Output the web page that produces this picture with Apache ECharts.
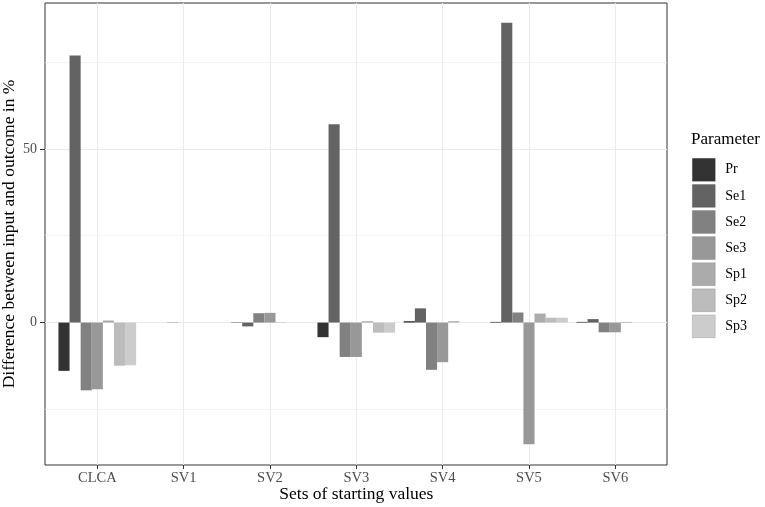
<!DOCTYPE html>
<html>
<head>
<meta charset="utf-8">
<script src="https://cdn.jsdelivr.net/npm/echarts@6/dist/echarts.min.js"></script>
<style>
  html, body { margin: 0; padding: 0; background: #fff; }
  #main { width: 765px; height: 507px; }
</style>
</head>
<body>
<div id="main"></div>
<script>
var chart = echarts.init(document.getElementById('main'));

// categories and values (percent)
var sets = ['CLCA', 'SV1', 'SV2', 'SV3', 'SV4', 'SV5', 'SV6'];
var params = ['Pr', 'Se1', 'Se2', 'Se3', 'Sp1', 'Sp2', 'Sp3'];
var pr  = [-13.9, 0, -0.1, -4.2, 0.4, 0.2, 0.2];
var se1 = [76.9, 0, -1.1, 57.1, 4.1, 86.3, 1.0];
var se2 = [-19.5, -0.1, 2.7, -9.9, -13.6, 2.9, -2.8];
var se3 = [-19.2, 0, 2.8, -9.9, -11.4, -35.0, -2.8];
var sp1 = [0.6, 0, 0.1, 0.4, 0.4, 2.6, 0.2];
var sp2 = [-12.4, 0, 0, -2.9, 0, 1.4, 0];
var sp3 = [-12.3, 0, 0, -2.9, 0, 1.4, 0];
var majorTicks = [0, 50];
var minorTicks = [-25, 25, 75];

var values = [pr, se1, se2, se3, sp1, sp2, sp3];
var greys = ['#333333', '#636363', '#818181', '#989898', '#ABABAB', '#BCBCBC', '#CCCCCC'];
var font = 'Liberation Serif';
var yMin = -41, yMax = 92;

var series = params.map(function (p, i) {
  return {
    name: p,
    type: 'bar',
    xAxisIndex: 1,
    yAxisIndex: 1,
    barGap: '0%',
    barCategoryGap: '10%',
    clip: false,
    itemStyle: { color: greys[i] },
    emphasis: { disabled: true },
    data: values[i]
  };
});

var option = {
  animation: false,
  color: greys,
  title: {
    text: 'Parameter',
    left: 691,
    top: 131,
    padding: 0,
    textStyle: { fontFamily: font, fontSize: 17, fontWeight: 'normal', color: '#000' }
  },
  legend: {
    orient: 'vertical',
    left: 692,
    top: 158,
    padding: 0,
    icon: 'rect',
    itemWidth: 23,
    itemHeight: 23,
    itemGap: 2.5,
    data: params,
    itemStyle: { borderColor: 'rgba(0,0,0,0.2)', borderWidth: 0.6 },
    textStyle: { fontFamily: font, fontSize: 14, color: '#000', padding: [0, 0, 0, 5] }
  },
  grid: [
    { left: 45, top: 3, width: 622, height: 462, show: true, borderColor: '#333', borderWidth: 1,
      backgroundColor: 'transparent', containLabel: false, outerBoundsMode: 'none' },
    { left: 97.3, top: 3, width: 518, height: 462, containLabel: false, outerBoundsMode: 'none' }
  ],
  xAxis: [
    { gridIndex: 0, type: 'value', min: 0, max: 1, show: false },
    {
      gridIndex: 1,
      type: 'category',
      position: 'bottom',
      data: sets,
      boundaryGap: false,
      axisLine: { show: false, onZero: false },
      axisTick: { show: true, length: 4, interval: 0, lineStyle: { color: '#333' } },
      axisLabel: { interval: 0, margin: 6, fontFamily: font, fontSize: 14.5, color: '#4D4D4D' },
      splitLine: { show: true, interval: 0, lineStyle: { color: '#EBEBEB', width: 1 } },
      name: 'Sets of starting values',
      nameLocation: 'middle',
      nameGap: 20,
      nameMoveOverlap: false,
      nameTextStyle: { fontFamily: font, fontSize: 17.5, color: '#000' }
    }
  ],
  yAxis: [
    {
      gridIndex: 0,
      type: 'value',
      min: yMin,
      max: yMax,
      axisLine: { show: false, onZero: false },
      axisTick: { show: true, length: 5, customValues: majorTicks, lineStyle: { color: '#333' } },
      axisLabel: { customValues: majorTicks, margin: 8, fontFamily: font, fontSize: 14, color: '#4D4D4D' },
      splitLine: { show: true, lineStyle: { color: '#EBEBEB', width: 1 } },
      name: 'Difference between input and outcome in %',
      nameLocation: 'middle',
      nameRotate: 90,
      nameGap: 27,
      nameMoveOverlap: false,
      nameTextStyle: { fontFamily: font, fontSize: 17.5, color: '#000' }
    },
    { gridIndex: 1, type: 'value', min: yMin, max: yMax, show: false },
    {
      gridIndex: 0,
      type: 'value',
      min: yMin,
      max: yMax,
      axisLine: { show: false, onZero: false },
      axisTick: { show: false, customValues: minorTicks },
      axisLabel: { show: false, customValues: minorTicks },
      splitLine: { show: true, lineStyle: { color: '#EFEFEF', width: 0.7 } }
    }
  ],
  series: series
};

chart.setOption(option);
</script>
</body>
</html>
